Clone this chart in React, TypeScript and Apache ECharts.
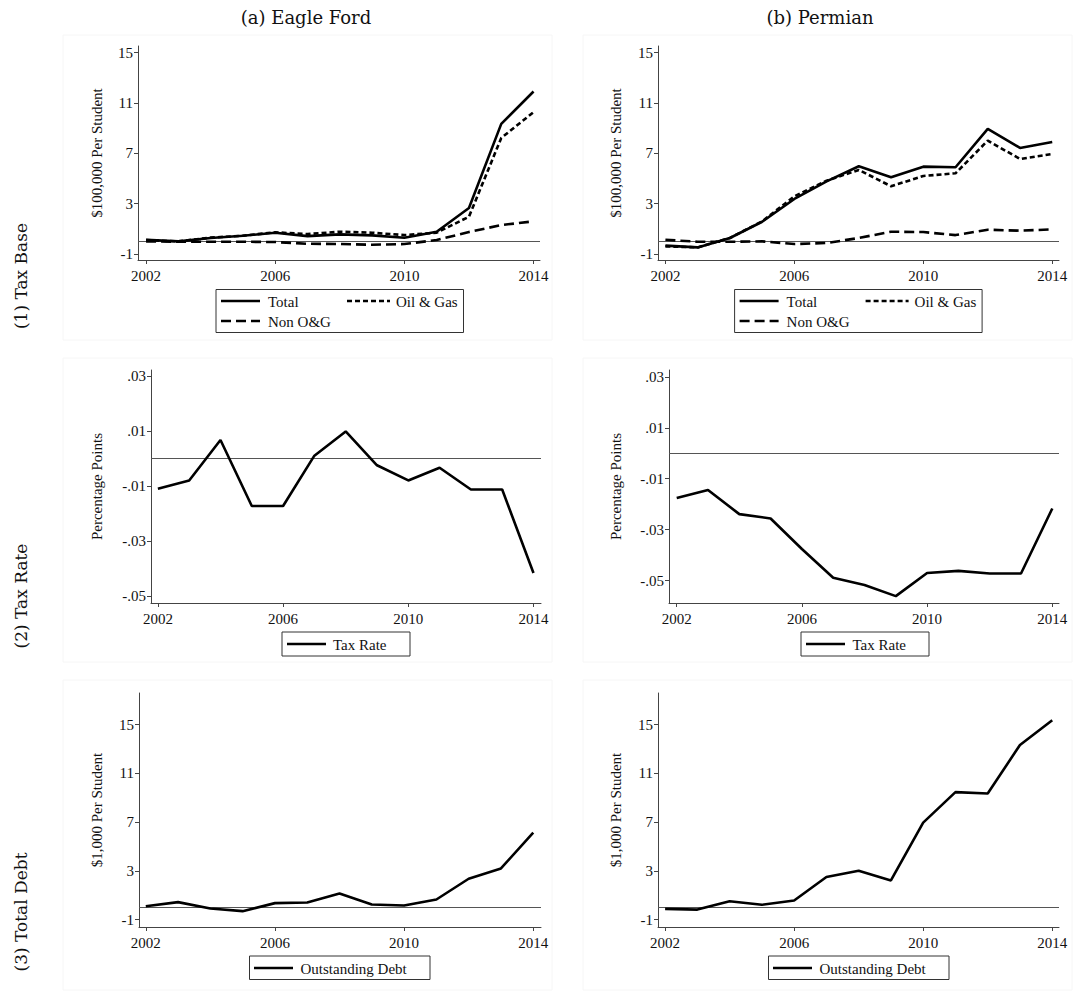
import React, { useEffect, useRef } from "react";
import * as echarts from "echarts";

const years = [2002, 2003, 2004, 2005, 2006, 2007, 2008, 2009, 2010, 2011, 2012, 2013, 2014];
const yearTicks = [2002, 2006, 2010, 2014];
const baseTicks = [-1, 3, 7, 11, 15];
const rateTicks = [-0.05, -0.03, -0.01, 0.01, 0.03];
const debtTicks = [-1, 3, 7, 11, 15];

// (a) Eagle Ford
const efTotal = [0.13, 0.0, 0.27, 0.45, 0.69, 0.42, 0.56, 0.48, 0.29, 0.77, 2.65, 9.34, 11.91];
const efOilGas = [0.1, 0.0, 0.3, 0.45, 0.72, 0.58, 0.77, 0.69, 0.5, 0.69, 1.96, 8.22, 10.27];
const efNonOG = [0.0, -0.03, -0.03, -0.03, -0.05, -0.19, -0.21, -0.27, -0.21, 0.11, 0.74, 1.3, 1.59];
const efTaxRate = [-0.0109, -0.0079, 0.0068, -0.0172, -0.0172, 0.0011, 0.0099, -0.0024, -0.0079, -0.0033, -0.0112, -0.0112, -0.0415];
const efDebt = [0.1, 0.43, -0.09, -0.31, 0.35, 0.4, 1.14, 0.24, 0.15, 0.65, 2.35, 3.2, 6.14];

// (b) Permian
const pmTotal = [-0.34, -0.48, 0.27, 1.56, 3.37, 4.77, 5.97, 5.09, 5.94, 5.89, 8.94, 7.43, 7.9];
const pmOilGas = [-0.4, -0.48, 0.27, 1.59, 3.58, 4.83, 5.68, 4.38, 5.2, 5.41, 8.01, 6.55, 6.95];
const pmNonOG = [0.13, -0.03, -0.03, 0.0, -0.21, -0.13, 0.27, 0.77, 0.74, 0.5, 0.93, 0.85, 0.95];
const pmTaxRate = [-0.0176, -0.0144, -0.0239, -0.0256, -0.0376, -0.0489, -0.0517, -0.0561, -0.047, -0.0462, -0.0472, -0.0472, -0.0217];
const pmDebt = [-0.12, -0.18, 0.51, 0.21, 0.57, 2.49, 3.01, 2.21, 6.96, 9.46, 9.35, 13.33, 15.36];

const SERIF = "Liberation Serif";
const TITLE_FONT = "DejaVu Serif";

const fmtRate = (v: number) => {
  const s = Math.abs(v).toFixed(2).replace(/^0/, "");
  return (v < 0 ? "-" : "") + s;
};

type Panel = {
  grid: { left: number; top: number; width: number; height: number };
  xMin: number; xMax: number; yMin: number; yMax: number;
  ticks: number[]; yName: string; nameGap: number; rate?: boolean;
};

const panels: Panel[] = [
  { grid: { left: 138, top: 46, width: 402, height: 214 }, xMin: 2001.75, xMax: 2014.2, yMin: -1.48, yMax: 15.53, ticks: baseTicks, yName: "$100,000 Per Student", nameGap: 34 },
  { grid: { left: 658, top: 46, width: 401, height: 214 }, xMin: 2001.77, xMax: 2014.21, yMin: -1.48, yMax: 15.53, ticks: baseTicks, yName: "$100,000 Per Student", nameGap: 35 },
  { grid: { left: 151, top: 370, width: 390, height: 233 }, xMin: 2001.78, xMax: 2014.24, yMin: -0.0524, yMax: 0.0322, ticks: rateTicks, yName: "Percentage Points", nameGap: 47, rate: true },
  { grid: { left: 669, top: 370, width: 390, height: 233 }, xMin: 2001.754, xMax: 2014.214, yMin: -0.0588, yMax: 0.0327, ticks: rateTicks, yName: "Percentage Points", nameGap: 46, rate: true },
  { grid: { left: 139, top: 693, width: 402, height: 234 }, xMin: 2001.79, xMax: 2014.24, yMin: -1.61, yMax: 17.6, ticks: debtTicks, yName: "$1,000 Per Student", nameGap: 35 },
  { grid: { left: 658, top: 693, width: 401, height: 234 }, xMin: 2001.78, xMax: 2014.21, yMin: -1.61, yMax: 17.6, ticks: debtTicks, yName: "$1,000 Per Student", nameGap: 35 },
];

const SHORT_DASH = [5, 3];
const LONG_DASH = [10, 5];

function mkSeries(name: string, values: number[], idx: number, dash: any, zero: boolean) {
  const s: any = {
    type: "line",
    name,
    xAxisIndex: idx,
    yAxisIndex: idx,
    data: years.map((y, k) => [y, values[k]]),
    symbol: "none",
    lineStyle: { color: "#000", width: 2.6, type: dash },
    z: 3,
  };
  if (zero) {
    s.markLine = {
      silent: true,
      symbol: ["none", "none"],
      label: { show: false },
      lineStyle: { color: "#555", width: 1, type: "solid" },
      data: [{ yAxis: 0 }],
      z: 2,
    };
  }
  return s;
}

function legendBox(x: number, y: number, w: number, h: number): any {
  return { type: "rect", shape: { x, y, width: w, height: h }, style: { fill: "#fff", stroke: "#333", lineWidth: 1 }, z: 10 };
}
function legendLine(x1: number, x2: number, y: number, dash: any): any {
  return { type: "line", shape: { x1, y1: y, x2, y2: y }, style: { stroke: "#000", lineWidth: 2.6, lineDash: dash }, z: 11 };
}
function legendText(x: number, y: number, text: string): any {
  return { type: "text", x, y, style: { text, font: `15px "${SERIF}"`, fill: "#111", verticalAlign: "middle", align: "left" }, z: 11 };
}
function panelBox(x: number, y: number, w: number, h: number): any {
  return { type: "rect", shape: { x, y, width: w, height: h }, style: { fill: "none", stroke: "#f6f6f6", lineWidth: 1 }, z: 0 };
}

export default function App() {
  const ref = useRef<HTMLDivElement>(null);
  useEffect(() => {
    if (!ref.current) return;
    const chart = echarts.init(ref.current, null, { renderer: "svg" });

    const grids = panels.map((p) => ({ ...p.grid, containLabel: false, outerBoundsMode: "none" }));
    const xAxes = panels.map((p, i) => ({
      type: "value",
      gridIndex: i,
      min: p.xMin,
      max: p.xMax,
      axisLine: { show: true, onZero: false, lineStyle: { color: "#444", width: 1 } },
      axisTick: { show: true, length: 4, customValues: yearTicks, lineStyle: { color: "#444" } },
      axisLabel: { customValues: yearTicks, formatter: (v: number) => String(Math.round(v)), fontFamily: SERIF, fontSize: 15, color: "#111", margin: 8 },
      splitLine: { show: false },
    }));
    const yAxes = panels.map((p, i) => ({
      type: "value",
      gridIndex: i,
      min: p.yMin,
      max: p.yMax,
      name: p.yName,
      nameLocation: "middle",
      nameRotate: 90,
      nameGap: p.nameGap,
      nameTextStyle: { fontFamily: SERIF, fontSize: 15, color: "#111" },
      axisLine: { show: true, onZero: false, lineStyle: { color: "#444", width: 1 } },
      axisTick: { show: true, length: 4, customValues: p.ticks, lineStyle: { color: "#444" } },
      axisLabel: {
        customValues: p.ticks,
        formatter: p.rate ? (v: number) => fmtRate(v) : (v: number) => String(Math.round(v)),
        fontFamily: SERIF, fontSize: 15, color: "#111", margin: 5,
      },
      splitLine: { show: false },
    }));

    const series = [
      mkSeries("Total", efTotal, 0, "solid", true),
      mkSeries("Oil & Gas", efOilGas, 0, SHORT_DASH, false),
      mkSeries("Non O&G", efNonOG, 0, LONG_DASH, false),
      mkSeries("Total", pmTotal, 1, "solid", true),
      mkSeries("Oil & Gas", pmOilGas, 1, SHORT_DASH, false),
      mkSeries("Non O&G", pmNonOG, 1, LONG_DASH, false),
      mkSeries("Tax Rate", efTaxRate, 2, "solid", true),
      mkSeries("Tax Rate", pmTaxRate, 3, "solid", true),
      mkSeries("Outstanding Debt", efDebt, 4, "solid", true),
      mkSeries("Outstanding Debt", pmDebt, 5, "solid", true),
    ];

    const dx = 518.6;
    const graphic: any[] = [
      panelBox(63, 35, 489, 305), panelBox(583, 35, 489, 305),
      panelBox(63, 358, 489, 304), panelBox(583, 358, 489, 304),
      panelBox(63, 680, 489, 310), panelBox(583, 680, 489, 310),
      { type: "text", x: 306, y: 17, style: { text: "(a) Eagle Ford", font: `18px "${TITLE_FONT}"`, fill: "#111", align: "center", verticalAlign: "middle" } },
      { type: "text", x: 820, y: 17, style: { text: "(b) Permian", font: `18px "${TITLE_FONT}"`, fill: "#111", align: "center", verticalAlign: "middle" } },
      { type: "text", x: 21, y: 276, rotation: Math.PI / 2, style: { text: "(1) Tax Base", font: `17px "${TITLE_FONT}"`, fill: "#111", align: "center", verticalAlign: "middle" } },
      { type: "text", x: 21, y: 596, rotation: Math.PI / 2, style: { text: "(2) Tax Rate", font: `17px "${TITLE_FONT}"`, fill: "#111", align: "center", verticalAlign: "middle" } },
      { type: "text", x: 21, y: 912, rotation: Math.PI / 2, style: { text: "(3) Total Debt", font: `17px "${TITLE_FONT}"`, fill: "#111", align: "center", verticalAlign: "middle" } },
    ];
    // Tax base legends
    for (const off of [0, dx]) {
      graphic.push(legendBox(216 + off, 289.5, 247.5, 43));
      graphic.push(legendLine(221 + off, 260 + off, 301, "solid"));
      graphic.push(legendText(268 + off, 301.5, "Total"));
      graphic.push(legendLine(347 + off, 390 + off, 301, SHORT_DASH));
      graphic.push(legendText(396 + off, 301.5, "Oil & Gas"));
      graphic.push(legendLine(221 + off, 260 + off, 321, LONG_DASH));
      graphic.push(legendText(268 + off, 321.5, "Non O&G"));
    }
    // Tax rate legends
    graphic.push(legendBox(282, 632, 128, 24), legendLine(287, 326, 644, "solid"), legendText(333, 644.5, "Tax Rate"));
    graphic.push(legendBox(801, 632, 128, 24), legendLine(806, 845, 644, "solid"), legendText(852.5, 644.5, "Tax Rate"));
    // Debt legends
    graphic.push(legendBox(249.5, 956, 180.5, 23.5), legendLine(254, 293, 968, "solid"), legendText(300.5, 968.5, "Outstanding Debt"));
    graphic.push(legendBox(768.5, 956, 180.5, 23.5), legendLine(773, 812, 968, "solid"), legendText(819.5, 968.5, "Outstanding Debt"));

    chart.setOption({
      animation: false,
      backgroundColor: "#fff",
      grid: grids,
      xAxis: xAxes,
      yAxis: yAxes,
      series,
      graphic,
    } as any);
    return () => chart.dispose();
  }, []);
  return <div ref={ref} style={{ position: "absolute", left: 0, top: 0, width: 1075, height: 994, background: "#fff" }} />;
}
